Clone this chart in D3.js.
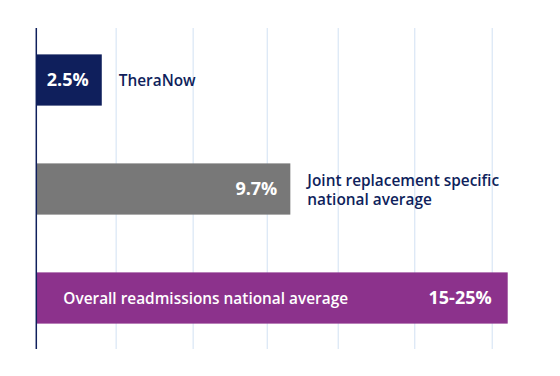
<!DOCTYPE html>
<html>
<head>
<script src="https://cdnjs.cloudflare.com/ajax/libs/d3/7.8.5/d3.min.js"></script>
<style>
  body { margin: 0; background: #fff; }
  svg { display: block; font-family: "Open Sans", sans-serif; }
</style>
</head>
<body>
<div id="chart"></div>
<script>
// data
const categories = ["TheraNow", "Joint replacement specific national average", "Overall readmissions national average"];
const categoryLines = [["TheraNow"], ["Joint replacement specific", "national average"], ["Overall readmissions national average"]];
const values = [2.5, 9.7, 18];
const valueLabels = ["2.5%", "9.7%", "15-25%"];
const gridValues = [3.05, 5.99, 8.82, 11.53, 14.45, 17.41];

const width = 560, height = 376;
const plotTop = 28, plotBottom = 349;

const svg = d3.select("#chart").append("svg")
    .attr("width", width).attr("height", height);

const x = d3.scaleLinear().domain([0, 18]).range([36.3, 507.7]);
const y = d3.scaleBand().domain(categories).range([25.5, 352.5])
    .paddingInner(0.53).paddingOuter(0.265);

const color = d3.scaleOrdinal().domain(categories)
    .range(["#0f1f5c", "#787878", "#8c328c"]);

// grid
svg.append("g").selectAll("line")
    .data(gridValues)
    .enter().append("line")
    .attr("x1", d => x(d)).attr("x2", d => x(d))
    .attr("y1", plotTop).attr("y2", plotBottom)
    .attr("stroke", "#dce8f6").attr("stroke-width", 1.3);

// bars
svg.append("g").selectAll("rect")
    .data(categories)
    .enter().append("rect")
    .attr("x", x(0))
    .attr("y", d => y(d))
    .attr("width", (d, i) => x(values[i]) - x(0))
    .attr("height", y.bandwidth())
    .attr("fill", d => color(d));

// axis line
svg.append("line")
    .attr("x1", x(0)).attr("x2", x(0))
    .attr("y1", plotTop).attr("y2", plotBottom)
    .attr("stroke", "#0f1f5c").attr("stroke-width", 1.5);

// value labels
svg.append("g").selectAll("text")
    .data(categories)
    .enter().append("text")
    .attr("x", (d, i) => x(values[i]) - (i === 2 ? 16 : 13))
    .attr("y", d => y(d) + y.bandwidth() / 2)
    .attr("dy", "0.36em")
    .attr("text-anchor", "end")
    .attr("fill", "#fff")
    .style("font-size", "18px")
    .style("font-weight", 700)
    .text((d, i) => valueLabels[i]);

// category labels
categories.forEach(function(c, i) {
    const inside = i === 2;
    const lines = categoryLines[i];
    const lh = 19.5;
    const cy = y(c) + y.bandwidth() / 2 + (lines.length > 1 ? 1 : 0);
    const t = svg.append("text")
        .attr("x", inside ? x(0) + 27 : x(values[i]) + 17)
        .attr("fill", inside ? "#fff" : "#0f1f5c")
        .style("font-size", "15.4px")
        .style("font-weight", 600);
    lines.forEach(function(l, j) {
        t.append("tspan")
            .attr("x", inside ? x(0) + 27 : x(values[i]) + 17)
            .attr("y", cy + (j - (lines.length - 1) / 2) * lh)
            .attr("dy", "0.36em")
            .text(l);
    });
});
</script>
</body>
</html>
